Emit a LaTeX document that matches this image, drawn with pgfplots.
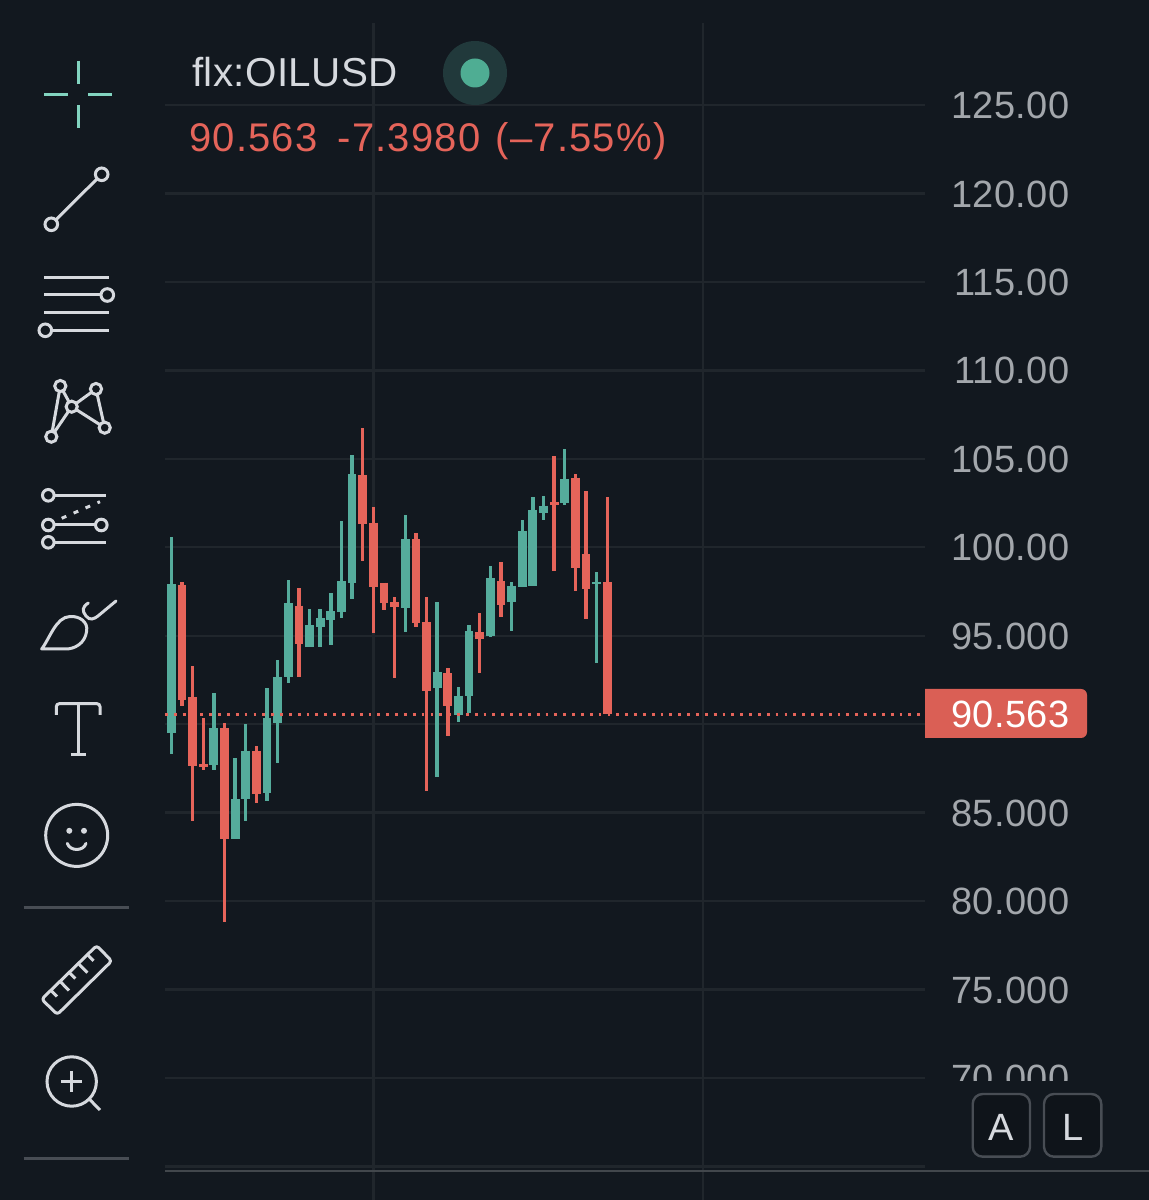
\documentclass[border=0pt]{standalone}
\usepackage{pgfplots}
\usepackage{pgfplotstable}
\usepackage{fontspec}
\pgfplotsset{compat=1.18}
\setmainfont{Liberation Sans}
\newfontfamily\ui[LetterSpace=1]{Liberation Sans}
\newfontfamily\uiw[LetterSpace=3]{Liberation Sans}
\definecolor{bg}{HTML}{12181F}
\definecolor{gridc}{HTML}{20262C}
\definecolor{up}{HTML}{55AC9C}
\definecolor{down}{HTML}{E5645A}
\definecolor{axt}{HTML}{A3A7AC}
\definecolor{ink}{HTML}{D6D9DE}
\definecolor{cross}{HTML}{82D4C0}
\definecolor{rule}{HTML}{484D54}
\definecolor{live}{HTML}{4FAD93}
\pgfplotstableread{
i high top bot low
0 100.56 97.92 89.48 88.30
4 91.74 89.76 87.67 87.41
6 88.07 85.75 83.51 83.50
7 90.01 88.50 85.75 84.52
9 92.06 90.33 86.09 85.67
10 93.63 92.66 90.08 87.79
11 98.15 96.83 92.65 92.34
13 96.49 95.60 94.38 94.38
14 96.49 95.98 95.51 94.38
15 97.43 96.38 95.89 94.49
16 101.48 98.09 96.32 95.98
17 105.21 104.14 98.00 97.06
22 101.82 100.45 96.55 95.23
25 96.92 92.95 92.03 87.03
27 92.12 91.61 90.52 90.14
28 95.60 95.28 91.59 90.61
30 98.96 98.26 94.98 94.91
32 98.05 97.83 96.92 95.28
33 101.54 100.94 97.77 97.77
34 102.86 102.11 97.83 97.83
35 102.91 102.35 101.95 101.54
37 105.54 103.86 102.48 102.39
40 98.60 98.04 97.91 93.47
}\upcandles
\pgfplotstableread{
i high top bot low
1 98.05 97.87 91.36 91.03
2 93.29 91.55 87.63 84.54
3 90.33 87.76 87.59 87.41
5 90.05 89.76 83.52 78.80
8 88.78 88.50 86.05 85.56
12 97.71 96.70 94.51 92.65
18 106.76 104.08 101.31 99.20
19 102.26 101.39 97.77 95.13
20 98.00 98.00 96.83 96.45
21 97.20 96.89 96.61 92.61
23 100.82 100.45 95.70 95.51
24 97.20 95.77 91.89 86.24
26 93.16 92.89 91.03 89.35
29 96.27 95.21 94.83 92.91
31 99.15 98.11 96.73 96.04
36 105.16 102.56 102.37 98.66
38 104.14 103.93 98.84 97.54
39 103.20 99.60 97.62 95.94
41 102.82 98.04 90.56 90.56
}\downcandles
\begin{document}
\begin{tikzpicture}
\fill[bg] (0,0) rectangle (1149pt,1200pt);
\useasboundingbox (0,0) rectangle (1149pt,1200pt);
\begin{axis}[
  at={(165pt,0pt)}, anchor=south west,
  scale only axis, width=760pt, height=1177pt,
  xmin=-0.592, xmax=70.87,
  ymin=63.104, ymax=129.635,
  axis line style={draw=none},
  major tick length=0pt,
  tick style={draw=none},
  xtick={19,50}, xticklabels={},
  ytick={65,70,75,80,85,90,95,100,105,110,115,120,125},
  yticklabels={,70.000,75.000,80.000,85.000,,95.000,100.00,105.00,110.00,115.00,120.00,125.00},
  yticklabel pos=right,
  yticklabel style={anchor=east, inner sep=0pt, xshift=144.5pt, yshift=-0.5pt, text=axt, font=\ui\fontsize{38}{40}\selectfont},
  grid=major,
  major grid style={draw=gridc, line width=2.4pt},
  clip=false,
]
% wicks
\addplot[draw=none, mark=none, forget plot, error bars/.cd, y dir=both, y explicit, error mark=none,
  error bar style={draw=up, line width=3.4pt}]
  table[x=i, y=top, y error plus expr=\thisrow{high}-\thisrow{top}, y error minus expr=\thisrow{top}-\thisrow{low}] {\upcandles};
\addplot[draw=none, mark=none, forget plot, error bars/.cd, y dir=both, y explicit, error mark=none,
  error bar style={draw=down, line width=3.4pt}]
  table[x=i, y=top, y error plus expr=\thisrow{high}-\thisrow{top}, y error minus expr=\thisrow{top}-\thisrow{low}] {\downcandles};
% bodies
\addplot[draw=none, mark=none, forget plot, error bars/.cd, y dir=minus, y explicit, error mark=none,
  error bar style={draw=up, line width=8.8pt}]
  table[x=i, y=top, y error minus expr=\thisrow{top}-\thisrow{bot}] {\upcandles};
\addplot[draw=none, mark=none, forget plot, error bars/.cd, y dir=minus, y explicit, error mark=none,
  error bar style={draw=down, line width=8.8pt}]
  table[x=i, y=top, y error minus expr=\thisrow{top}-\thisrow{bot}] {\downcandles};
% last price line
\addplot[draw=down, line width=2.8pt, dash pattern=on 2.8pt off 6.05pt, forget plot] coordinates {(-0.592,90.563) (70.87,90.563)};
\end{axis}
\begin{scope}[x=1pt,y=-1pt,yshift=1200pt]
% lower axis region
\fill[bg] (928,1081) rectangle (1149,1169);
\draw[gridc!85!white, line width=2.2pt] (165,1171) -- (1149,1171);
% price tag
\fill[down!95!black] (925,689) {[rounded corners=6pt] -- (1087,689) -- (1087,738)} -- (925,738) -- cycle;
\node[anchor=base east, inner sep=0pt, text=white, font=\ui\fontsize{38}{40}\selectfont] at (1069.5,727.5) {90.563};
% header
\node[anchor=base west, inner sep=0pt, text=ink, font=\ui\fontsize{40.4}{42}\selectfont] at (192,86.5) {flx:OILUSD};
\fill[color=up!22!bg] (475,73) circle[radius=32];
\fill[color=live] (475,73) circle[radius=14.5];
\node[anchor=base west, inner sep=0pt, text=down, font=\uiw\fontsize{40}{42}\selectfont] at (189,152) {90.563\hspace{20pt}-7.3980\hspace{3pt} (–7.55\%)};
% buttons
\foreach \xa/\xb/\t in {972.7/1030/A,1044/1101.3/L}{
  \draw[draw=rule, fill=bg!85!black, line width=2.4pt, rounded corners=10pt] (\xa,1094) rectangle (\xb,1156.7);
  \node[inner sep=0pt, text=ink, font=\fontsize{38}{40}\selectfont] at ({(\xa+\xb)/2},1127) {\t};
}
% crosshair
\begin{scope}[draw=cross, line width=3pt]
\draw (78,60.7)--(78,84); \draw (78,105)--(78,128); \draw (44,94.3)--(67.7,94.3); \draw (88.3,94.3)--(112,94.3);
\end{scope}
% tools
\begin{scope}[draw=ink, line width=3pt]
\draw (101.7,174.3)--(51.3,224.3);
\draw[fill=bg] (101.7,174.3) circle[radius=6.3]; \draw[fill=bg] (51.3,224.3) circle[radius=6.3];
\draw (44,277.3)--(109,277.3); \draw (44,295)--(107,295); \draw (44,312.7)--(109,312.7); \draw (45,330.3)--(109,330.3);
\draw[fill=bg] (107.3,295) circle[radius=6.3]; \draw[fill=bg] (45.3,330.3) circle[radius=6.3];
\draw (51.3,436.7)--(60.3,386)--(71.7,406.7)--(51.3,436.7);
\draw (71.7,406.7)--(96,389)--(104.7,427.7)--cycle;
\foreach \p in {(60.3,386),(96,389),(71.7,406.7),(51.3,436.7),(104.7,427.7)} \draw[fill=bg] \p circle[radius=5.6];
\draw (48.3,495.3)--(106,495.3); \draw (48.3,525)--(101.3,525); \draw (48.3,542.3)--(106,542.3);
\draw[dash pattern=on 5pt off 8pt] (61.7,518.3)--(100,501.7);
\foreach \p in {(48.3,495.3),(48.3,525),(48.3,542.3),(101.3,525)} \draw[fill=bg] \p circle[radius=5.8];
% brush
\draw[line join=round] (41.7,649) .. controls (50,638) and (56,617) .. (70,616.5) .. controls (80,616) and (88,622) .. (86.7,631) .. controls (85,644) and (74,649) .. (66,649) -- cycle;
\draw[line cap=round] (88.3,603) .. controls (82,607) and (82,611) .. (86,616) .. controls (90,621) and (94,619) .. (98,616) -- (116,601);
% text tool
\draw[rounded corners=3pt] (56.3,714.8)--(56.3,703.7)--(100,703.7)--(100,714.8);
\draw (78,703.7)--(78,755); \draw (70.7,755)--(85.7,755);
% smiley
\draw (76.7,835.4) circle[radius=31];
\fill[ink] (69.3,830.8) circle[radius=3]; \fill[ink] (84,830.8) circle[radius=3];
\draw[line cap=round] (67.3,843.4) .. controls (70,851.5) and (83.5,851.5) .. (86,843.4);
% ruler
\draw[line join=round, rounded corners=3pt] (41.7,999.2)--(96.7,945.6)--(111.7,961)--(57.3,1014.5)--cycle;
\draw (50.9,990.3)--(57,996.5); \draw (60,981.3)--(69,990.5); \draw (69.2,972.4)--(75.3,978.6);
\draw (78.4,963.5)--(87.4,972.7); \draw (87.5,954.6)--(93.6,960.8);
% magnifier
\draw (71.7,1081.5) circle[radius=24.7];
\draw (89,1098.8)--(100,1110);
\draw (61,1081.5)--(82.4,1081.5); \draw (71.7,1071)--(71.7,1092);
\end{scope}
\draw[rule, line width=2.6pt] (23.7,907.7)--(129.3,907.7);
\draw[rule, line width=2.6pt] (23.7,1158.5)--(129.3,1158.5);
\end{scope}
\end{tikzpicture}
\end{document}
